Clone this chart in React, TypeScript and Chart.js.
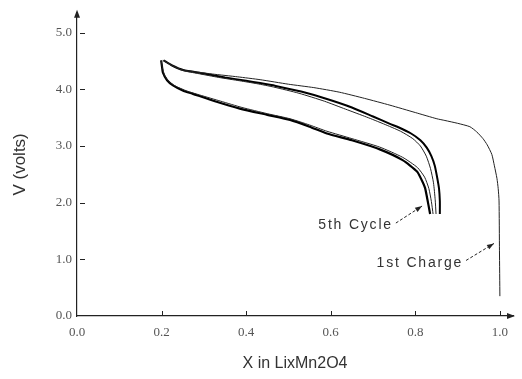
import React, { useEffect, useRef } from 'react';
import { Chart, registerables } from 'chart.js';

Chart.register(...registerables);

// Axis ticks
const xTickValues = [0, 0.2, 0.4, 0.6, 0.8, 1.0];
const yTickValues = [0, 1, 2, 3, 4, 5];

// 1st charge curve
const firstChargeX = [1.0, 0.999, 0.998, 0.996, 0.993, 0.987, 0.981, 0.97, 0.96, 0.945, 0.929, 0.9, 0.87, 0.851, 0.8, 0.74, 0.68, 0.62, 0.56, 0.5, 0.433, 0.38, 0.32, 0.251, 0.225, 0.203];
const firstChargeV = [0.35, 1.15, 2.03, 2.25, 2.43, 2.65, 2.85, 3.02, 3.13, 3.25, 3.34, 3.4, 3.45, 3.48, 3.59, 3.72, 3.84, 3.95, 4.03, 4.09, 4.17, 4.22, 4.27, 4.34, 4.42, 4.51];

// Later charge curves
const chargeAX = [0.858, 0.858, 0.856, 0.852, 0.846, 0.838, 0.827, 0.812, 0.79, 0.76, 0.74, 0.7, 0.65, 0.591, 0.53, 0.47, 0.433, 0.4, 0.35, 0.3, 0.251, 0.225, 0.205];
const chargeAV = [1.8, 2.03, 2.25, 2.43, 2.65, 2.82, 2.97, 3.1, 3.22, 3.33, 3.39, 3.52, 3.68, 3.83, 3.96, 4.06, 4.11, 4.15, 4.21, 4.28, 4.34, 4.42, 4.51];
const chargeBX = [0.849, 0.847, 0.843, 0.836, 0.826, 0.812, 0.794, 0.765, 0.725, 0.685, 0.635, 0.585, 0.525, 0.465, 0.425, 0.385, 0.335, 0.285, 0.251, 0.225, 0.205];
const chargeBV = [1.8, 2.05, 2.35, 2.6, 2.82, 3.0, 3.13, 3.26, 3.39, 3.51, 3.65, 3.79, 3.93, 4.04, 4.1, 4.15, 4.21, 4.28, 4.33, 4.42, 4.51];

// Discharge curves
const dischargeAX = [0.199, 0.201, 0.203, 0.213, 0.227, 0.25, 0.274, 0.33, 0.385, 0.45, 0.504, 0.55, 0.591, 0.65, 0.716, 0.77, 0.804, 0.815, 0.823, 0.83, 0.835];
const dischargeAV = [4.51, 4.4, 4.3, 4.16, 4.07, 3.98, 3.92, 3.78, 3.66, 3.55, 3.46, 3.34, 3.22, 3.1, 2.94, 2.75, 2.55, 2.4, 2.26, 2.0, 1.8];
const dischargeBX = [0.199, 0.202, 0.207, 0.217, 0.232, 0.26, 0.29, 0.34, 0.39, 0.45, 0.504, 0.55, 0.591, 0.65, 0.716, 0.77, 0.805, 0.822, 0.832, 0.838, 0.842];
const dischargeBV = [4.51, 4.38, 4.25, 4.14, 4.06, 3.97, 3.9, 3.79, 3.68, 3.57, 3.48, 3.37, 3.26, 3.13, 2.98, 2.8, 2.62, 2.45, 2.25, 2.02, 1.8];

// Annotations (data units)
const noteTexts = ['5th Cycle', '1st Charge'];
const noteTextX = [0.747, 0.913];
const noteTextV = [1.61, 0.94];
const arrowTailX = [0.754, 0.92];
const arrowTailV = [1.64, 0.98];
const arrowHeadX = [0.816, 0.986];
const arrowHeadV = [1.94, 1.28];

const toPts = (xs: number[], ys: number[]) => xs.map((x, i) => ({ x, y: ys[i] }));

const decor = {
  id: 'decor',
  afterDraw(chart: any) {
    const { ctx, chartArea } = chart;
    const xs = chart.scales.x;
    const ys = chart.scales.y;
    ctx.save();
    ctx.strokeStyle = '#222';
    ctx.fillStyle = '#222';
    ctx.lineWidth = 1;
    // inward ticks
    xTickValues.forEach((v) => {
      if (v === 0) return;
      const px = Math.round(xs.getPixelForValue(v)) + 0.5;
      ctx.beginPath();
      ctx.moveTo(px, chartArea.bottom);
      ctx.lineTo(px, chartArea.bottom - 5);
      ctx.stroke();
    });
    yTickValues.forEach((v) => {
      if (v === 0) return;
      const py = Math.round(ys.getPixelForValue(v)) + 0.5;
      ctx.beginPath();
      ctx.moveTo(chartArea.left + 3, py);
      ctx.lineTo(chartArea.left + 8, py);
      ctx.stroke();
    });
    // axis arrowheads
    ctx.beginPath();
    ctx.moveTo(chartArea.left, chartArea.top - 3);
    ctx.lineTo(chartArea.left - 3, chartArea.top + 5);
    ctx.lineTo(chartArea.left + 3, chartArea.top + 5);
    ctx.closePath();
    ctx.fill();
    ctx.beginPath();
    ctx.moveTo(chartArea.right + 2, chartArea.bottom);
    ctx.lineTo(chartArea.right - 6, chartArea.bottom - 3);
    ctx.lineTo(chartArea.right - 6, chartArea.bottom + 3);
    ctx.closePath();
    ctx.fill();
    // annotations
    ctx.font = '14px "Liberation Sans"';
    (ctx as any).letterSpacing = '1.8px';
    ctx.textAlign = 'right';
    ctx.textBaseline = 'middle';
    ctx.fillStyle = '#333';
    noteTexts.forEach((t, i) => {
      ctx.fillText(t, xs.getPixelForValue(noteTextX[i]), ys.getPixelForValue(noteTextV[i]));
      const tx = xs.getPixelForValue(arrowTailX[i]);
      const ty = ys.getPixelForValue(arrowTailV[i]);
      const hx = xs.getPixelForValue(arrowHeadX[i]);
      const hy = ys.getPixelForValue(arrowHeadV[i]);
      ctx.save();
      ctx.setLineDash([3, 2]);
      ctx.beginPath();
      ctx.moveTo(tx, ty);
      ctx.lineTo(hx, hy);
      ctx.stroke();
      ctx.restore();
      const ang = Math.atan2(hy - ty, hx - tx);
      ctx.beginPath();
      ctx.moveTo(hx, hy);
      ctx.lineTo(hx - 7 * Math.cos(ang) + 2.5 * Math.sin(ang), hy - 7 * Math.sin(ang) - 2.5 * Math.cos(ang));
      ctx.lineTo(hx - 7 * Math.cos(ang) - 2.5 * Math.sin(ang), hy - 7 * Math.sin(ang) + 2.5 * Math.cos(ang));
      ctx.closePath();
      ctx.fillStyle = '#222';
      ctx.fill();
      ctx.fillStyle = '#333';
    });
    ctx.restore();
  },
};

export default function App() {
  const ref = useRef<HTMLCanvasElement>(null);
  useEffect(() => {
    const canvas = ref.current;
    if (!canvas) return;
    const line = (data: any, width: number, color: string) => ({
      data,
      showLine: true,
      borderColor: color,
      borderWidth: width,
      pointRadius: 0,
      tension: 0.2,
      fill: false,
    });
    const chart = new Chart(canvas, {
      type: 'scatter',
      data: {
        datasets: [
          line(toPts(firstChargeX, firstChargeV), 1, '#222'),
          line(toPts(chargeBX, chargeBV), 1, '#222'),
          line(toPts(chargeAX, chargeAV), 2, '#000'),
          line(toPts(dischargeBX, dischargeBV), 1, '#222'),
          line(toPts(dischargeAX, dischargeAV), 2.2, '#000'),
        ] as any,
      },
      options: {
        animation: false,
        responsive: false,
        layout: { padding: { top: 10, right: 9, left: 0, bottom: 0 } },
        plugins: { legend: { display: false }, tooltip: { enabled: false } },
        scales: {
          x: {
            type: 'linear',
            min: 0,
            max: 1.031,
            afterBuildTicks: (s: any) => {
              s.ticks = xTickValues.map((v) => ({ value: v }));
            },
            afterFit: (s: any) => {
              s.height = 63;
            },
            grid: { display: true, drawOnChartArea: false, drawTicks: false },
            border: { display: true, color: '#222', width: 1.2 },
            ticks: {
              padding: 9,
              color: '#555',
              autoSkip: false,
              maxRotation: 0,
              font: { family: 'Liberation Serif', size: 13 },
              callback: (v: any) => Number(v).toFixed(1),
            },
            title: {
              display: true,
              text: 'X in LixMn2O4',
              color: '#333',
              font: { family: 'Liberation Sans', size: 16 },
              padding: { top: 0, bottom: 6 },
            },
          },
          y: {
            type: 'linear',
            min: 0,
            max: 5.35,
            afterBuildTicks: (s: any) => {
              s.ticks = yTickValues.map((v) => ({ value: v }));
            },
            afterFit: (s: any) => {
              s.width = 77;
            },
            grid: { display: true, drawOnChartArea: false, drawTicks: false },
            border: { display: true, color: '#222', width: 1.2 },
            ticks: {
              padding: 5,
              color: '#555',
              autoSkip: false,
              font: { family: 'Liberation Serif', size: 13 },
              callback: (v: any) => Number(v).toFixed(1),
            },
            title: {
              display: true,
              text: 'V (volts)',
              color: '#333',
              font: { family: 'Liberation Sans', size: 17 },
              padding: { top: 10, bottom: 0 },
            },
          },
        },
      },
      plugins: [decor],
    });
    return () => chart.destroy();
  }, []);
  return (
    <div style={{ position: 'fixed', left: 0, top: 0, width: 522, height: 379, background: '#fff' }}>
      <canvas ref={ref} width={522} height={379} />
    </div>
  );
}
